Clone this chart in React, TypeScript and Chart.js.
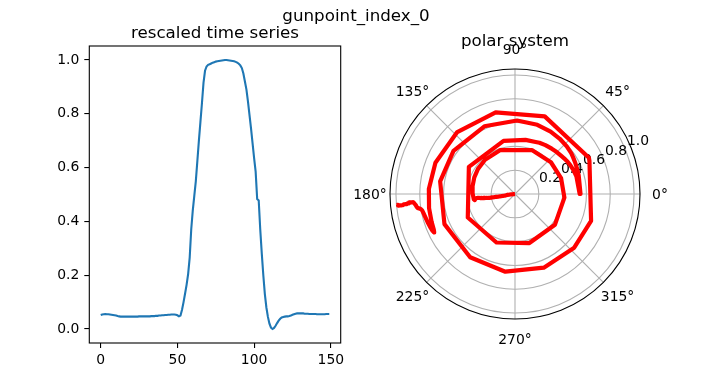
import React, { useEffect, useRef } from "react";
import { Chart, registerables } from "chart.js";

Chart.register(...registerables);

// ---------- data ----------
const SUPTITLE = "gunpoint_index_0";
const LEFT_TITLE = "rescaled time series";
const POLAR_TITLE = "polar system";

// rescaled time series (150 samples)
const SERIES: number[] = [
  0.052, 0.054, 0.055, 0.056, 0.055, 0.055, 0.054, 0.053, 0.052, 0.051,
  0.050, 0.048, 0.047, 0.046, 0.046, 0.046, 0.046, 0.046, 0.046, 0.046,
  0.046, 0.046, 0.046, 0.046, 0.046, 0.047, 0.047, 0.047, 0.047, 0.047,
  0.047, 0.047, 0.047, 0.048, 0.048, 0.048, 0.049, 0.049, 0.050, 0.050,
  0.051, 0.051, 0.052, 0.052, 0.053, 0.053, 0.054, 0.054, 0.054, 0.053,
  0.051, 0.047, 0.050, 0.072, 0.100, 0.132, 0.165, 0.205, 0.265, 0.370,
  0.440, 0.495, 0.550, 0.625, 0.700, 0.770, 0.840, 0.915, 0.960, 0.976,
  0.982, 0.984, 0.987, 0.990, 0.992, 0.994, 0.995, 0.996, 0.997, 0.998,
  0.999, 1.000, 1.000, 0.999, 0.998, 0.997, 0.996, 0.995, 0.993, 0.990,
  0.986, 0.980, 0.970, 0.950, 0.920, 0.890, 0.845, 0.795, 0.745, 0.690,
  0.635, 0.585, 0.483, 0.478, 0.370, 0.280, 0.200, 0.130, 0.080, 0.045,
  0.020, 0.005, 0.000, 0.004, 0.012, 0.022, 0.031, 0.038, 0.043, 0.045,
  0.046, 0.047, 0.047, 0.048, 0.050, 0.053, 0.055, 0.057, 0.058, 0.058,
  0.058, 0.058, 0.058, 0.057, 0.057, 0.057, 0.056, 0.056, 0.056, 0.056,
  0.056, 0.055, 0.055, 0.055, 0.055, 0.055, 0.055, 0.056, 0.056, 0.056,
];

const X_TICKS = [0, 50, 100, 150];
const Y_TICKS = [0.0, 0.2, 0.4, 0.6, 0.8, 1.0];
const R_TICKS = [0.2, 0.4, 0.6, 0.8, 1.0];
const THETA_TICKS = [0, 45, 90, 135, 180, 225, 270, 315];
const R_LABEL_ANGLE = 22.5;
const R_MAX = 1.05;

// polar encoding of the series: angle = 2*pi*arccos(value), radius = normalised time
const POLAR_POINTS = SERIES.map((v, i) => {
  const theta = 2 * Math.PI * Math.acos(Math.max(-1, Math.min(1, v)));
  const r = i / (SERIES.length - 1);
  return { x: r * Math.cos(theta), y: r * Math.sin(theta) };
});

const FONT = '"DejaVu Sans", "Liberation Sans", sans-serif';
const TICK_PX = 13.9;
const TITLE_PX = 16.7;

const W = 712;
const H = 385;

const titlesPlugin = {
  id: "titles",
  afterDraw(chart: any) {
    const { ctx, chartArea } = chart;
    ctx.save();
    ctx.fillStyle = "#000";
    ctx.font = `${TITLE_PX}px ${FONT}`;
    ctx.textAlign = "center";
    ctx.textBaseline = "alphabetic";
    ctx.fillText(SUPTITLE, W / 2, 21);
    ctx.fillText(LEFT_TITLE, (chartArea.left + chartArea.right) / 2, 38);
    ctx.restore();
  },
};

const boxPlugin = {
  id: "box",
  afterDatasetsDraw(chart: any) {
    const { ctx, chartArea } = chart;
    ctx.save();
    ctx.strokeStyle = "#000";
    ctx.lineWidth = 1.1;
    ctx.strokeRect(
      chartArea.left,
      chartArea.top,
      chartArea.right - chartArea.left,
      chartArea.bottom - chartArea.top
    );
    ctx.restore();
  },
};

const polarPlugin = {
  id: "polarGrid",
  beforeDatasetsDraw(chart: any) {
    const { ctx } = chart;
    const xs = chart.scales.x;
    const ys = chart.scales.y;
    const cx = xs.getPixelForValue(0);
    const cy = ys.getPixelForValue(0);
    const unit = xs.getPixelForValue(1) - cx;
    const outer = R_MAX * unit;
    ctx.save();
    ctx.strokeStyle = "#b0b0b0";
    ctx.lineWidth = 1.1;
    R_TICKS.forEach((r) => {
      ctx.beginPath();
      ctx.arc(cx, cy, r * unit, 0, Math.PI * 2);
      ctx.stroke();
    });
    THETA_TICKS.forEach((d) => {
      const a = (d * Math.PI) / 180;
      ctx.beginPath();
      ctx.moveTo(cx, cy);
      ctx.lineTo(cx + outer * Math.cos(a), cy - outer * Math.sin(a));
      ctx.stroke();
    });
    ctx.fillStyle = "#000";
    ctx.font = `${TICK_PX}px ${FONT}`;
    ctx.textAlign = "left";
    ctx.textBaseline = "alphabetic";
    const la = (R_LABEL_ANGLE * Math.PI) / 180;
    R_TICKS.forEach((r) => {
      ctx.fillText(
        r.toFixed(1),
        cx + r * unit * Math.cos(la) + 2,
        cy - r * unit * Math.sin(la) - 3
      );
    });
    ctx.textAlign = "center";
    ctx.textBaseline = "middle";
    THETA_TICKS.forEach((d) => {
      const a = (d * Math.PI) / 180;
      ctx.fillText(
        `${d}°`,
        cx + (outer + 20) * Math.cos(a),
        cy - (outer + 20) * Math.sin(a) + 1
      );
    });
    ctx.font = `${TITLE_PX}px ${FONT}`;
    ctx.textBaseline = "alphabetic";
    ctx.fillText(POLAR_TITLE, cx, 46);
    ctx.restore();
  },
  afterDatasetsDraw(chart: any) {
    const { ctx } = chart;
    const xs = chart.scales.x;
    const ys = chart.scales.y;
    const cx = xs.getPixelForValue(0);
    const cy = ys.getPixelForValue(0);
    const unit = xs.getPixelForValue(1) - cx;
    ctx.save();
    ctx.strokeStyle = "#000";
    ctx.lineWidth = 1.1;
    ctx.beginPath();
    ctx.arc(cx, cy, R_MAX * unit, 0, Math.PI * 2);
    ctx.stroke();
    ctx.restore();
  },
};

export default function App() {
  const leftRef = useRef<HTMLCanvasElement | null>(null);
  const polarRef = useRef<HTMLCanvasElement | null>(null);

  useEffect(() => {
    const tickGrid = {
      display: true,
      drawOnChartArea: false,
      drawTicks: true,
      tickLength: 5,
      color: "#000",
      lineWidth: 1.1,
    };
    const tickFont = { family: FONT, size: TICK_PX };

    const left = new Chart(leftRef.current as HTMLCanvasElement, {
      type: "line",
      data: {
        datasets: [
          {
            data: SERIES.map((v, i) => ({ x: i, y: v })),
            borderColor: "#1f77b4",
            borderWidth: 2.1,
            pointRadius: 0,
            tension: 0,
            fill: false,
          },
        ],
      },
      options: {
        animation: false,
        responsive: false,
        maintainAspectRatio: false,
        events: [],
        layout: { padding: { left: 0, top: 46, right: W - 340.7, bottom: 0 } },
        plugins: { legend: { display: false }, tooltip: { enabled: false }, title: { display: false } },
        scales: {
          x: {
            type: "linear",
            min: -7.45,
            max: 156.45,
            afterBuildTicks: (s: any) => {
              s.ticks = X_TICKS.map((v) => ({ value: v }));
            },
            afterFit: (s: any) => {
              s.height = H - 343;
            },
            grid: tickGrid,
            border: { display: false },
            ticks: {
              font: tickFont,
              color: "#000",
              padding: 4,
              maxRotation: 0,
              autoSkip: false,
              callback: (v: any) => String(v),
            },
          },
          y: {
            type: "linear",
            min: -0.052,
            max: 1.052,
            afterBuildTicks: (s: any) => {
              s.ticks = Y_TICKS.map((v) => ({ value: v }));
            },
            afterFit: (s: any) => {
              s.width = 89.3;
            },
            grid: tickGrid,
            border: { display: false },
            ticks: {
              font: tickFont,
              color: "#000",
              padding: 5,
              autoSkip: false,
              callback: (v: any) => Number(v).toFixed(1),
            },
          },
        },
      } as any,
      plugins: [boxPlugin, titlesPlugin],
    });

    const polar = new Chart(polarRef.current as HTMLCanvasElement, {
      type: "scatter",
      data: {
        datasets: [
          {
            data: POLAR_POINTS,
            showLine: true,
            borderColor: "#ff0000",
            backgroundColor: "#ff0000",
            borderWidth: 4.2,
            borderJoinStyle: "round",
            borderCapStyle: "butt",
            pointRadius: 0,
            tension: 0,
          },
        ],
      },
      options: {
        animation: false,
        responsive: false,
        maintainAspectRatio: false,
        events: [],
        layout: { padding: { left: 390, right: W - 640, top: 69, bottom: H - 319 } },
        plugins: { legend: { display: false }, tooltip: { enabled: false } },
        scales: {
          x: { type: "linear", display: false, min: -R_MAX, max: R_MAX },
          y: { type: "linear", display: false, min: -R_MAX, max: R_MAX },
        },
      } as any,
      plugins: [polarPlugin],
    });

    return () => {
      left.destroy();
      polar.destroy();
    };
  }, []);

  const canvasStyle: React.CSSProperties = {
    position: "absolute",
    left: 0,
    top: 0,
    width: W,
    height: H,
  };

  return (
    <div
      style={{
        position: "fixed",
        left: 0,
        top: 0,
        width: W,
        height: H,
        background: "#fff",
        overflow: "hidden",
      }}
    >
      <canvas ref={leftRef} width={W} height={H} style={canvasStyle} />
      <canvas ref={polarRef} width={W} height={H} style={canvasStyle} />
    </div>
  );
}
